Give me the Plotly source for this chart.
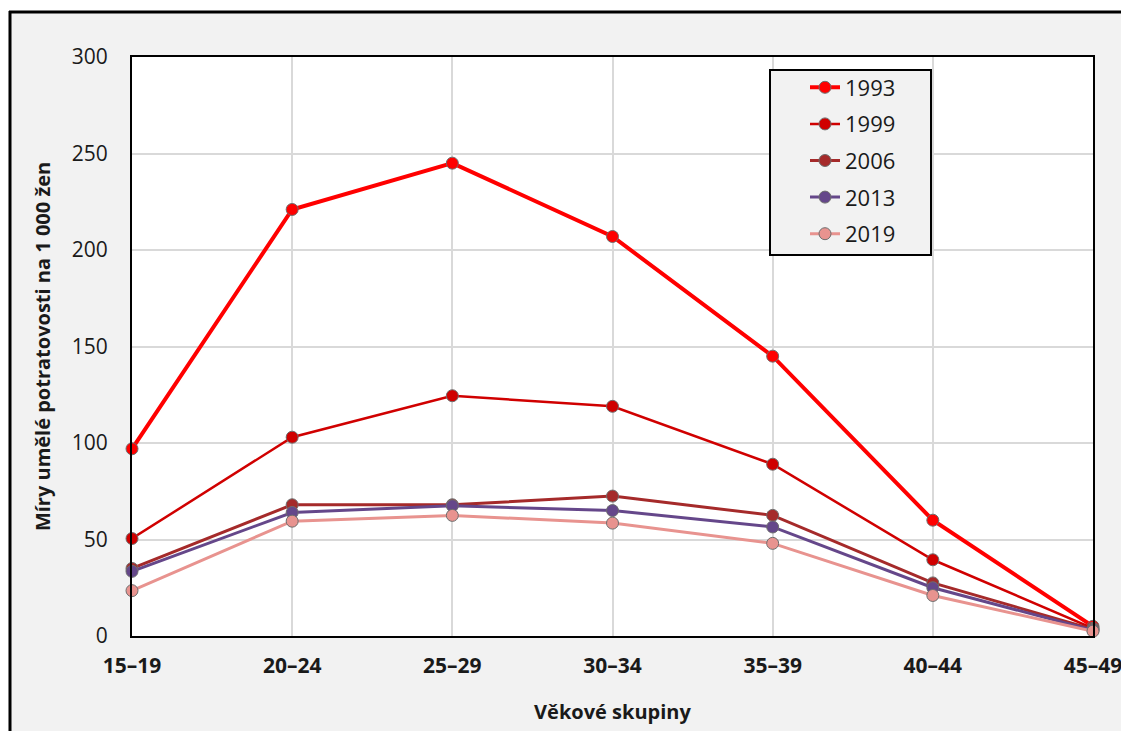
import plotly.graph_objects as go

categories = ["15–19", "20–24", "25–29", "30–34", "35–39", "40–44", "45–49"]
years = ["1993", "1999", "2006", "2013", "2019"]
v1993 = [97, 221, 245, 207, 145, 60, 5]
v1999 = [50.5, 103, 124.5, 119, 89, 39.5, 4]
v2006 = [35, 68, 68, 72.5, 62.5, 27.5, 3.5]
v2013 = [33.5, 64, 67.5, 65, 56.5, 25, 3]
v2019 = [23.5, 59.5, 62.5, 58.5, 48, 21, 2.5]
series = [v1993, v1999, v2006, v2013, v2019]

colors = ["#ff0000", "#d00000", "#a52a2a", "#65478a", "#e8938f"]
widths = [4, 2.5, 3, 3, 3]

FONT = "Open Sans"
W, H = 1121, 731
# plot area in page coords: left 132, right 1093, top 57, bottom 636
L, T = 132, 57
R = W - 1093
B = H - 636
pw, ph = W - L - R, H - T - B

def px_x(p):  # page px -> paper x
    return (p - L) / pw

def px_y(p):  # page px -> paper y
    return (H - B - p) / ph

fig = go.Figure()
for name, vals, c, w in zip(years, series, colors, widths):
    fig.add_trace(go.Scatter(
        x=categories, y=vals, name=name, mode="lines+markers",
        legendgroup=name,
        line=dict(color=c, width=w),
        marker=dict(size=12, color=c, line=dict(color="#6e6e6e", width=1)),
        cliponaxis=False,
    ))

shapes = [
    dict(type="rect", xref="paper", yref="paper", x0=px_x(-10), x1=px_x(1130),
         y0=px_y(11), y1=px_y(-10), fillcolor="white", line=dict(width=0), layer="below"),
    dict(type="rect", xref="paper", yref="paper", x0=px_x(-10), x1=px_x(8.5),
         y0=px_y(740), y1=px_y(-10), fillcolor="white", line=dict(width=0), layer="below"),
    dict(type="line", xref="paper", yref="paper", x0=px_x(9), x1=px_x(1130),
         y0=px_y(12), y1=px_y(12), line=dict(color="black", width=3), layer="below"),
    dict(type="line", xref="paper", yref="paper", x0=px_x(10), x1=px_x(10),
         y0=px_y(11), y1=px_y(740), line=dict(color="black", width=3), layer="below"),
    dict(type="rect", xref="paper", yref="paper", x0=px_x(770), x1=px_x(931),
         y0=px_y(255), y1=px_y(70), fillcolor="#f2f2f2",
         line=dict(color="black", width=2), layer="above"),
]

fig.update_layout(
    width=W, height=H,
    margin=dict(l=L, r=R, t=T, b=B, autoexpand=False),
    paper_bgcolor="#f2f2f2", plot_bgcolor="white",
    font=dict(family=FONT, color="#1a1a1a", size=21),
    shapes=shapes,
    showlegend=True,
    legend=dict(
        x=px_x(805), y=px_y(66.5), xanchor="left", yanchor="top",
        bgcolor="rgba(0,0,0,0)", borderwidth=0,
        font=dict(family=FONT, size=22, color="#1a1a1a"),
        tracegroupgap=5, itemsizing="trace",
    ),
    xaxis=dict(
        type="category", range=[0, 6], showgrid=True, gridcolor="#d9d9d9", gridwidth=2,
        showline=True, linecolor="black", linewidth=2, mirror=True, automargin=False,
        ticks="", tickfont=dict(family=FONT, size=21, color="#1a1a1a", weight="bold"),
        title=dict(text="<b>Věkové skupiny</b>", font=dict(family=FONT, size=20, color="#1a1a1a"),
                   standoff=27),
        ticklabelstandoff=10,
    ),
    yaxis=dict(
        range=[0, 300], dtick=50, showgrid=True, gridcolor="#d9d9d9", gridwidth=2,
        showline=True, linecolor="black", linewidth=2, mirror=True, automargin=False,
        ticks="", tickfont=dict(family=FONT, size=21, color="#1a1a1a"),
        ticklabelstandoff=18, zeroline=False,
        title=dict(text="<b>Míry umělé potratovosti na 1 000 žen</b>",
                   font=dict(family=FONT, size=20, color="#1a1a1a"), standoff=16),
    ),
)

fig.write_html("out.html", config={"displayModeBar": False},
               post_script="document.body.style.margin='0';")
